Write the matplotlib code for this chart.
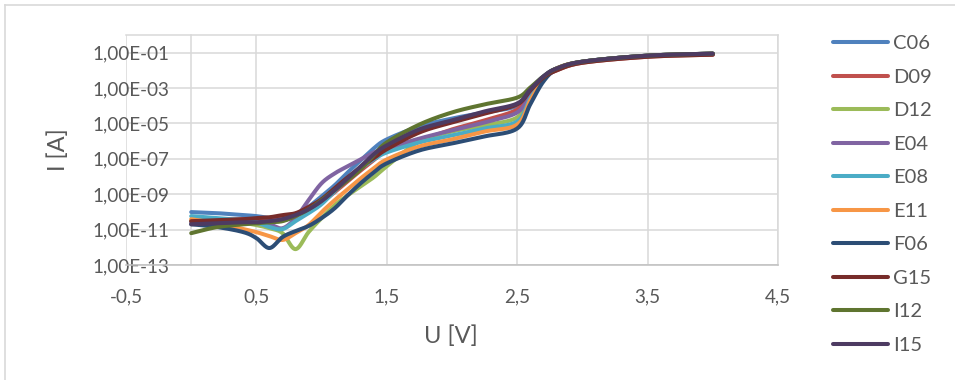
import numpy as np
import matplotlib
matplotlib.use("Agg")
import matplotlib.pyplot as plt
from matplotlib.lines import Line2D
from matplotlib.ticker import FixedLocator, FuncFormatter

plt.rcParams['font.family'] = ['Lato', 'DejaVu Sans']

# Measurement voltages [V]
voltage = [0.0, 0.2, 0.4, 0.5, 0.6, 0.7, 0.8, 0.9, 1.0, 1.1, 1.2, 1.3,
           1.4, 1.5, 1.75, 2.0, 2.25, 2.5, 2.6, 2.7, 2.8, 3.0, 3.5, 4.0]

# Measured currents [A] per sample
i_c06 = [9.8e-11, 8.5e-11, 6.6e-11, 5.8e-11, 4.5e-11, 3.4e-11, 5.8e-11, 1.9e-10,
         7.7e-10, 3.2e-9, 1.7e-8, 8.3e-8, 3.9e-7, 1.26e-6, 6.8e-6, 1.9e-5,
         4.2e-5, 1.0e-4, 8.3e-4, 4.5e-3, 1.26e-2, 3.1e-2, 6.8e-2, 8.8e-2]
i_d09 = [3.0e-11, 3.4e-11, 3.9e-11, 3.9e-11, 4.5e-11, 5.0e-11, 7.4e-11, 1.4e-10,
         3.5e-10, 1.3e-9, 5.4e-9, 2.2e-8, 8.3e-8, 3.0e-7, 1.1e-6, 4.6e-6,
         1.5e-5, 6.2e-5, 5.6e-4, 3.9e-3, 9.8e-3, 2.7e-2, 5.9e-2, 7.7e-2]
i_d12 = [3.0e-11, 2.6e-11, 2.3e-11, 1.8e-11, 1.2e-11, 6.3e-12, 7.9e-13, 7.2e-12,
         4.5e-11, 2.4e-10, 8.7e-10, 2.8e-9, 9.1e-9, 3.8e-8, 9.8e-7, 3.5e-6,
         7.8e-6, 2.2e-5, 3.3e-4, 3.5e-3, 1.26e-2, 3.1e-2, 6.8e-2, 8.8e-2]
i_e04 = [2.6e-11, 2.6e-11, 2.6e-11, 2.3e-11, 2.0e-11, 1.2e-11, 4.5e-11, 4.6e-10,
         4.2e-9, 1.5e-8, 3.8e-8, 9.3e-8, 2.3e-7, 3.9e-7, 1.4e-6, 4.1e-6,
         1.15e-5, 4.2e-5, 4.3e-4, 3.5e-3, 1.26e-2, 3.1e-2, 6.8e-2, 8.8e-2]
i_e08 = [5.8e-11, 4.5e-11, 3.4e-11, 2.6e-11, 1.4e-11, 1.07e-11, 3.0e-11, 8.5e-11,
         2.75e-10, 1.5e-9, 7.1e-9, 2.9e-8, 9.3e-8, 2.3e-7, 8.5e-7, 2.1e-6,
         5.2e-6, 1.3e-5, 2.6e-4, 3.5e-3, 1.26e-2, 3.1e-2, 6.8e-2, 8.8e-2]
i_e11 = [3.9e-11, 2.3e-11, 1.07e-11, 7.2e-12, 4.3e-12, 2.6e-12, 6.3e-12, 1.8e-11,
         9.8e-11, 4.6e-10, 1.9e-9, 7.9e-9, 2.9e-8, 9.3e-8, 5.0e-7, 1.26e-6,
         3.5e-6, 8.7e-6, 2.0e-4, 3.0e-3, 1.26e-2, 3.1e-2, 6.8e-2, 8.8e-2]
i_f06 = [2.0e-11, 1.4e-11, 7.2e-12, 3.3e-12, 9.1e-13, 3.8e-12, 8.3e-12, 1.6e-11,
         4.5e-11, 1.6e-10, 8.7e-10, 4.2e-9, 1.7e-8, 5.6e-8, 3.0e-7, 7.4e-7,
         1.85e-6, 5.2e-6, 1.2e-4, 2.3e-3, 1.1e-2, 3.1e-2, 6.8e-2, 8.8e-2]
i_g15 = [3.0e-11, 3.4e-11, 3.9e-11, 4.5e-11, 5.0e-11, 6.6e-11, 8.5e-11, 1.9e-10,
         5.2e-10, 2.2e-9, 9.1e-9, 3.3e-8, 1.07e-7, 3.5e-7, 3.1e-6, 1.15e-5,
         3.6e-5, 1.2e-4, 7.2e-4, 3.9e-3, 9.8e-3, 2.7e-2, 5.9e-2, 7.7e-2]
i_i12 = [6.3e-12, 1.4e-11, 2.0e-11, 2.3e-11, 2.6e-11, 3.0e-11, 5.8e-11, 1.4e-10,
         4.6e-10, 1.7e-9, 6.2e-9, 2.6e-8, 1.6e-7, 8.5e-7, 8.7e-6, 4.2e-5,
         1.2e-4, 2.9e-4, 1.07e-3, 4.5e-3, 1.26e-2, 3.1e-2, 6.8e-2, 8.8e-2]
i_i15 = [2.0e-11, 2.3e-11, 2.6e-11, 2.6e-11, 3.0e-11, 3.9e-11, 6.6e-11, 1.4e-10,
         4.1e-10, 1.7e-9, 7.9e-9, 3.8e-8, 1.8e-7, 5.8e-7, 4.6e-6, 1.5e-5,
         4.8e-5, 1.35e-4, 8.3e-4, 4.5e-3, 1.26e-2, 3.1e-2, 6.8e-2, 8.8e-2]

series_names = ["C06", "D09", "D12", "E04", "E08", "E11", "F06", "G15", "I12", "I15"]
series_currents = [i_c06, i_d09, i_d12, i_e04, i_e08, i_e11, i_f06, i_g15, i_i12, i_i15]
series_colors = ["#4F81BD", "#C0504D", "#9BBB59", "#8064A2", "#4BACC6",
                 "#F79646", "#2C4D75", "#772C2A", "#5F7530", "#4D3B62"]

x_ticks = [-0.5, 0.5, 1.5, 2.5, 3.5, 4.5]
y_ticks = [1e-13, 1e-11, 1e-9, 1e-7, 1e-5, 1e-3, 1e-1]

TEXT = "#595959"
GRID = "#D9D9D9"
AXIS = "#BFBFBF"


def smooth_line(xs, ys, sx=130.4, sy=17.7, n=24):
    """Bezier smoothing through the points (log-y), like a spreadsheet 'smoothed line'."""
    px = np.asarray(xs, float) * sx
    py = np.log10(np.asarray(ys, float)) * sy
    P = np.column_stack([px, py])
    Pe = np.vstack([P[0], P, P[-1]])
    out = [P[:1]]
    t = np.linspace(0, 1, n)[1:, None]
    for i in range(len(P) - 1):
        p0, p3 = Pe[i + 1], Pe[i + 2]
        c1 = p0 + (Pe[i + 2] - Pe[i]) / 6.0
        c2 = p3 - (Pe[i + 3] - Pe[i + 1]) / 6.0
        seg = ((1 - t) ** 3) * p0 + 3 * ((1 - t) ** 2) * t * c1 \
            + 3 * (1 - t) * t ** 2 * c2 + t ** 3 * p3
        out.append(seg)
    Q = np.vstack(out)
    return Q[:, 0] / sx, 10 ** (Q[:, 1] / sy)


fig = plt.figure(figsize=(9.55, 3.8), dpi=100)
ax = fig.add_axes([126 / 955, 1 - 265 / 380, 652 / 955, 230 / 380])

for name, cur, col in zip(series_names, series_currents, series_colors):
    sxv, syv = smooth_line(voltage, cur)
    ax.plot(sxv, syv, color=col, lw=2.9, solid_capstyle='round',
            solid_joinstyle='round', label=name, zorder=3)

ax.set_yscale('log')
ax.set_xlim(-0.5, 4.5)
ax.set_ylim(1e-13, 1e0)
ax.xaxis.set_major_locator(FixedLocator(x_ticks))
ax.yaxis.set_major_locator(FixedLocator(y_ticks))
ax.yaxis.set_minor_locator(FixedLocator([]))
ax.xaxis.set_major_formatter(FuncFormatter(lambda v, p: f"{v:.1f}".replace('.', ',')))


def sci_comma(v, p):
    m, e = f"{v:.2E}".split('E')
    return f"{m.replace('.', ',')}E{int(e):+03d}".replace('+', '')


ax.yaxis.set_major_formatter(FuncFormatter(sci_comma))

ax.grid(True, which='major', color=GRID, lw=1.1, zorder=0)
ax.set_axisbelow(True)
ax.spines['left'].set_position(('data', 0))
ax.spines['left'].set_color(GRID)
ax.spines['left'].set_linewidth(1.1)
ax.spines['bottom'].set_color(AXIS)
ax.spines['bottom'].set_linewidth(1.1)
ax.spines['top'].set_color(GRID)
ax.spines['top'].set_linewidth(1.1)
ax.spines['right'].set_color(GRID)
ax.spines['right'].set_linewidth(1.1)
ax.tick_params(axis='both', length=0, labelsize=13.6, labelcolor=TEXT)
ax.tick_params(axis='y', pad=15.5)
ax.tick_params(axis='x', pad=17.0)

fig.text(58 / 955, 1 - 150 / 380, "I [A]", rotation=90, ha='center', va='center',
         fontsize=17, color=TEXT)
fig.text(451 / 955, 1 - 336 / 380, "U [V]", ha='center', va='center',
         fontsize=17, color=TEXT)

leg = ax.legend(loc='upper left', bbox_to_anchor=(833 / 955, 1 - 35 / 380),
                bbox_transform=fig.transFigure, frameon=False, fontsize=14.5,
                handlelength=2.75, handletextpad=0.22, labelspacing=0.815,
                borderpad=0, borderaxespad=0)
for t in leg.get_texts():
    t.set_color(TEXT)
for h in leg.legend_handles:
    h.set_linewidth(2.9)

# outer chart frame
fig.add_artist(Line2D([5 / 955, 5 / 955], [0, 1 - 5 / 380], color=GRID, lw=1.2,
                      transform=fig.transFigure))
fig.add_artist(Line2D([5 / 955, 1], [1 - 5 / 380, 1 - 5 / 380], color=GRID, lw=1.2,
                      transform=fig.transFigure))

fig.savefig("out.png", dpi=100, facecolor='white')
